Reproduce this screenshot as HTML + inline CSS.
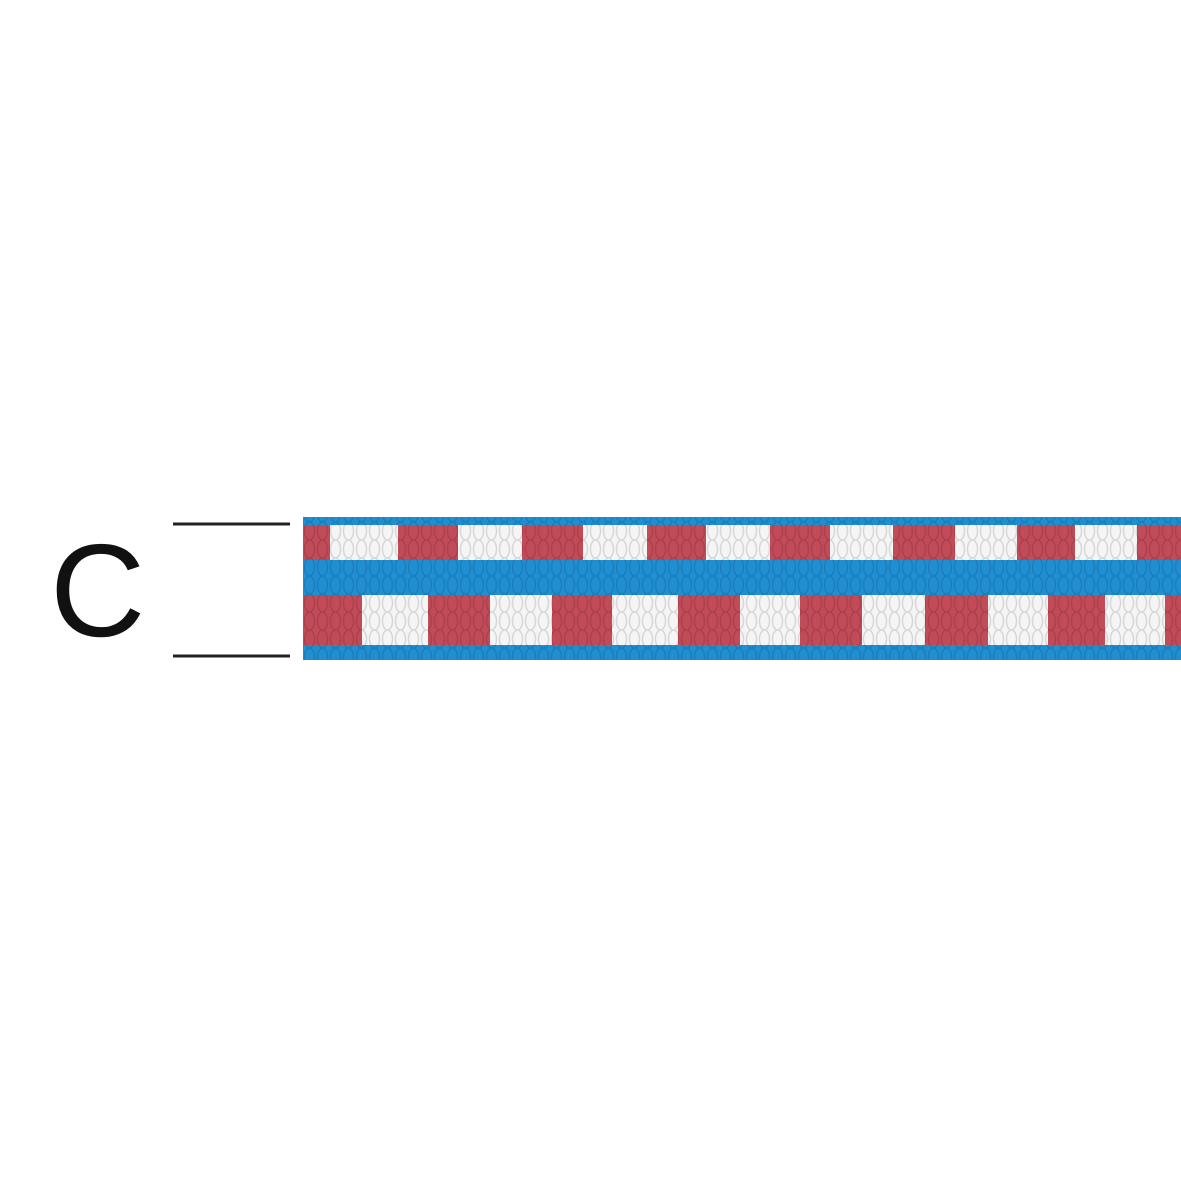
<!DOCTYPE html>
<html><head><meta charset="utf-8"><style>
html,body{margin:0;padding:0;background:#fff;}
svg{display:block}
</style></head><body>
<svg width="1181" height="1181" viewBox="0 0 1181 1181" xmlns="http://www.w3.org/2000/svg">
<defs>
<pattern id="st" x="303" y="0" width="13" height="18" patternUnits="userSpaceOnUse">
<ellipse cx="6.5" cy="9" rx="5" ry="9" fill="none" stroke="#000" stroke-opacity="0.12" stroke-width="1.5"/>
</pattern>
</defs>
<rect width="1181" height="1181" fill="#fff"/>
<text x="50" y="636" font-family="Liberation Sans, sans-serif" font-size="132" fill="#111">C</text>
<line x1="173" y1="524" x2="290" y2="524" stroke="#222" stroke-width="3"/>
<line x1="173" y1="656" x2="290" y2="656" stroke="#222" stroke-width="3"/>
<rect x="303" y="517" width="878" height="143" fill="#1f8fd2"/>
<g fill="#c24b58">
<rect x="303" y="525" width="27" height="35"/>
<rect x="398" y="525" width="60" height="35"/>
<rect x="522" y="525" width="61" height="35"/>
<rect x="647" y="525" width="59" height="35"/>
<rect x="770" y="525" width="60" height="35"/>
<rect x="893" y="525" width="62" height="35"/>
<rect x="1017" y="525" width="58" height="35"/>
<rect x="1137" y="525" width="44" height="35"/>
<rect x="303" y="595" width="59" height="50"/>
<rect x="428" y="595" width="62" height="50"/>
<rect x="552" y="595" width="60" height="50"/>
<rect x="678" y="595" width="62" height="50"/>
<rect x="800" y="595" width="62" height="50"/>
<rect x="925" y="595" width="63" height="50"/>
<rect x="1048" y="595" width="57" height="50"/>
<rect x="1165" y="595" width="16" height="50"/>
</g>
<g fill="#f5f5f5">
<rect x="330" y="525" width="68" height="35"/>
<rect x="458" y="525" width="64" height="35"/>
<rect x="583" y="525" width="64" height="35"/>
<rect x="706" y="525" width="64" height="35"/>
<rect x="830" y="525" width="63" height="35"/>
<rect x="955" y="525" width="62" height="35"/>
<rect x="1075" y="525" width="62" height="35"/>
<rect x="362" y="595" width="66" height="50"/>
<rect x="490" y="595" width="62" height="50"/>
<rect x="612" y="595" width="66" height="50"/>
<rect x="740" y="595" width="60" height="50"/>
<rect x="862" y="595" width="63" height="50"/>
<rect x="988" y="595" width="60" height="50"/>
<rect x="1105" y="595" width="60" height="50"/>
</g>
<rect x="303" y="517" width="878" height="143" fill="url(#st)"/>
</svg>
</body></html>
